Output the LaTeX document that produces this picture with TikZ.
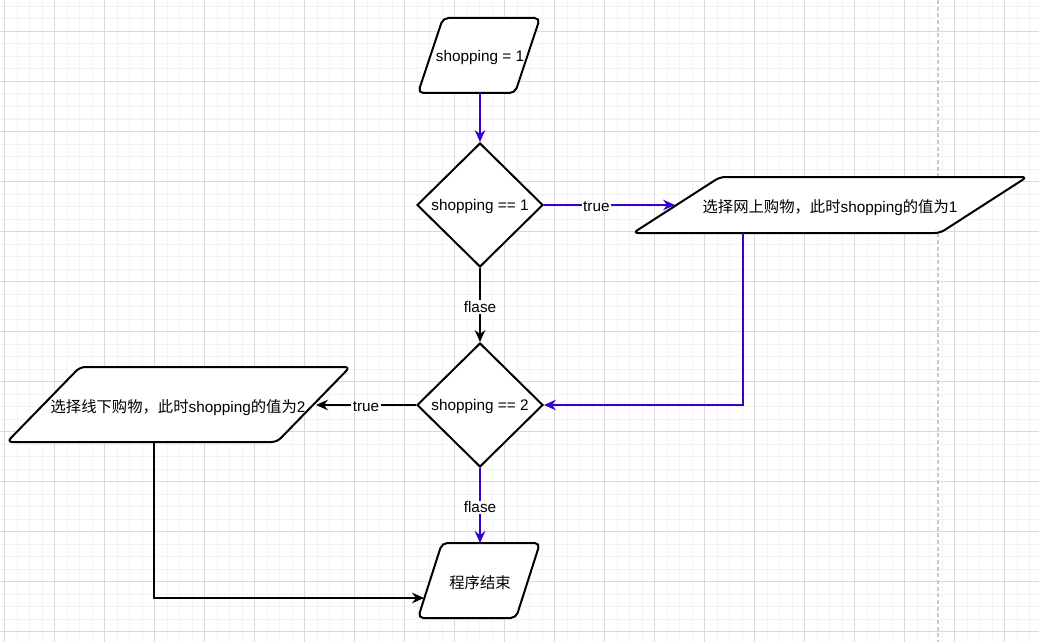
\documentclass[tikz,border=0pt]{standalone}
\usepackage{fontspec}
\setmainfont{Liberation Sans}
\newfontfamily\cjk{Noto Sans CJK SC}
\usetikzlibrary{shapes.geometric,arrows.meta}
\newcommand\zh[1]{{\cjk #1}}
% \mypara{cx}{cy}{width}{height}{slant}
\newcommand\mypara[5]{%
  \draw[parabox] ({#1-#3/2+#5},{#2-#4/2}) -- ({#1+#3/2},{#2-#4/2})
    -- ({#1+#3/2-#5},{#2+#4/2}) -- ({#1-#3/2},{#2+#4/2}) -- cycle;}
\definecolor{purp}{HTML}{3700CC}
\definecolor{gminor}{HTML}{F3F3F3}
\definecolor{gmajor}{HTML}{DADADA}
\definecolor{gdash}{HTML}{C8C8C8}
\tikzset{
  txt/.style={font=\fontsize{11.5}{13.5}\selectfont, inner sep=0pt, yshift=-1.5pt},
  parabox/.style={draw=black, line width=1.5pt, rounded corners=4pt, fill=white},
  dia/.style={diamond, draw=black, line width=1.5pt, inner sep=0pt, fill=white,
    minimum width=94.5pt, minimum height=93pt},
  arr/.style={line width=0.8pt, -{Stealth[length=9pt,width=8pt,inset=3pt]}},
  parr/.style={arr, draw=purp},
  barr/.style={arr, draw=black},
  lbl/.style={txt, fill=white, inner sep=1pt, text=black}
}
\begin{document}
\begin{tikzpicture}[x=0.75pt,y=-0.75pt]
\useasboundingbox (0,0) rectangle (1039,642);
% grid
\foreach \i in {0,...,83} { \draw[gminor, line width=0.75pt] (4.5+12.5*\i,0) -- (4.5+12.5*\i,642); }
\foreach \i in {0,...,51} { \draw[gminor, line width=0.75pt] (0,6.5+12.5*\i) -- (1039,6.5+12.5*\i); }
\foreach \i in {0,...,20} { \draw[gmajor, line width=0.75pt] (4.5+50*\i,0) -- (4.5+50*\i,642); }
\foreach \i in {0,...,12} { \draw[gmajor, line width=0.75pt] (0,31.5+50*\i) -- (1039,31.5+50*\i); }
\draw[gdash, line width=1pt, dash pattern=on 3pt off 2pt] (938,0) -- (938,642);

% parallelogram outlines
\mypara{479}{55.5}{122}{75}{25}
\mypara{830}{205}{394}{56}{87}
\mypara{178.5}{404.5}{343}{75}{73}
\mypara{479}{580.5}{122}{75}{24}

% nodes
\node[txt] (p1) at (480,56) {shopping = 1};
\node[dia] (d1) at (480,205) {};
\node[txt] (t1) at (d1) {shopping == 1};
\node[txt] (p2) at (830,206) {\zh{选择网上购物，此时}shopping\zh{的值为}1};
\node[dia] (d2) at (480,405) {};
\node[txt] (t2) at (d2) {shopping == 2};
\node[txt] (p3) at (178,406) {\zh{选择线下购物，此时}shopping\zh{的值为}2};
\node[txt] (p4) at (480,581) {\zh{程序结束}};

% connector ends on the parallelogram borders
\coordinate (p1b) at (480,93);
\coordinate (p2l) at (675,205);
\coordinate (p2b) at (743,233);
\coordinate (p3r) at (316,405);
\coordinate (p3b) at (154,442);
\coordinate (p4l) at (424,598);
\coordinate (p4t) at (480,543);

% edges
\draw[parr] (p1b) -- (d1.north);
\draw[parr] (d1.east) -- (p2l) node[lbl, pos=0.4] (l1) {true};
\draw[parr] (p2b) |- (d2.east);
\draw[barr] (d1.south) -- (d2.north) node[lbl, midway] (l2) {flase};
\draw[barr] (d2.west) -- (p3r) node[lbl, midway] (l3) {true};
\draw[barr] (p3b) |- (p4l);
\draw[parr] (d2.south) -- (p4t) node[lbl, midway] (l4) {flase};
\end{tikzpicture}
\end{document}
